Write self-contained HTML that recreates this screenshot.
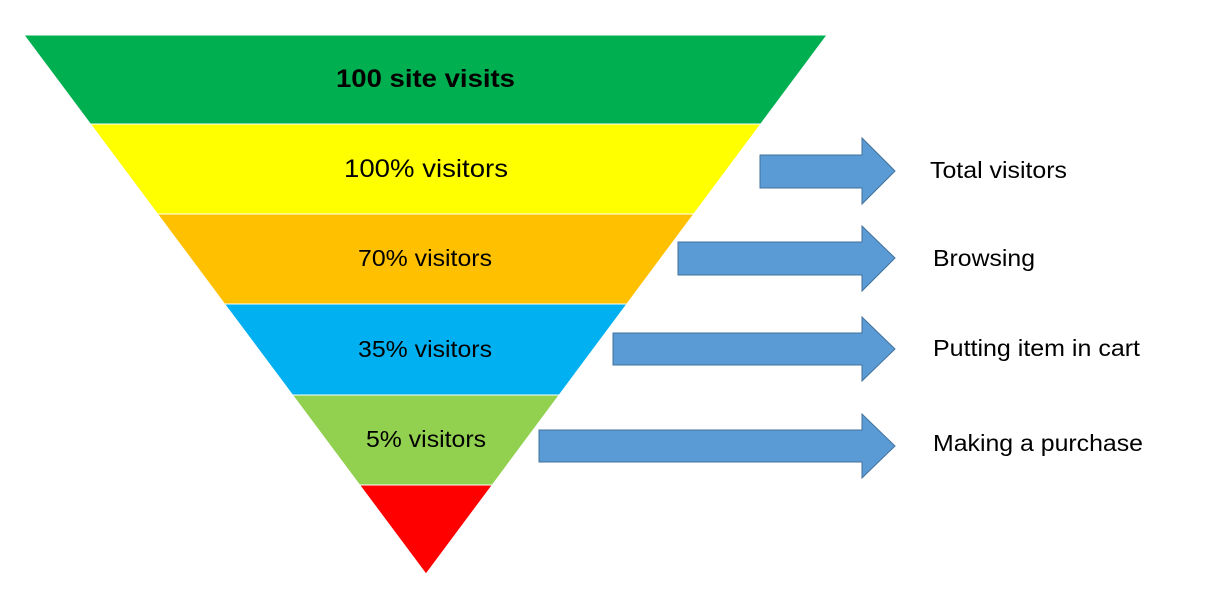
<!DOCTYPE html>
<html><head><meta charset="utf-8"><style>
html,body{margin:0;padding:0;background:#fff;}
svg{display:block;}
text{font-family:"Liberation Sans",Arial,sans-serif;fill:#000;}
</style></head><body>
<svg width="1218" height="595" viewBox="0 0 1218 595">
<g stroke="#fff" stroke-width="1">
<polygon points="24,35 827,35 760.8,124 90.4,124" fill="#00b050"/>
<polygon points="90.4,124 760.8,124 693.8,214 157.5,214" fill="#ffff00"/>
<polygon points="157.5,214 693.8,214 626.9,304 224.6,304" fill="#ffc000"/>
<polygon points="224.6,304 626.9,304 559.2,395 292.5,395" fill="#00b0f0"/>
<polygon points="292.5,395 559.2,395 492.3,485 359.6,485" fill="#92d050"/>
<polygon points="359.6,485 492.3,485 426,574" fill="#ff0000"/>
</g>
<g lengthAdjust="spacingAndGlyphs">
<text x="336" y="87" font-size="25" font-weight="bold" textLength="179" lengthAdjust="spacingAndGlyphs">100 site visits</text>
<text x="344" y="177" font-size="25" textLength="164" lengthAdjust="spacingAndGlyphs">100% visitors</text>
<text x="358" y="266" font-size="23" textLength="134" lengthAdjust="spacingAndGlyphs">70% visitors</text>
<text x="358" y="357" font-size="23" textLength="134" lengthAdjust="spacingAndGlyphs">35% visitors</text>
<text x="366" y="447" font-size="23" textLength="120" lengthAdjust="spacingAndGlyphs">5% visitors</text>
</g>
<g fill="#5b9bd5" stroke="#41719c" stroke-width="1">
<polygon points="760,155 862,155 862,138 895,171 862,204 862,188 760,188"/>
<polygon points="678,242 862,242 862,226 895,258 862,291 862,275 678,275"/>
<polygon points="613,333 862,333 862,317 895,349 862,381 862,365 613,365"/>
<polygon points="539,430 862,430 862,414 895,446 862,478 862,462 539,462"/>
</g>
<text x="930" y="178" font-size="23" textLength="137" lengthAdjust="spacingAndGlyphs">Total visitors</text>
<text x="933" y="266" font-size="23" textLength="102" lengthAdjust="spacingAndGlyphs">Browsing</text>
<text x="933" y="356" font-size="23" textLength="207" lengthAdjust="spacingAndGlyphs">Putting item in cart</text>
<text x="933" y="451" font-size="23" textLength="210" lengthAdjust="spacingAndGlyphs">Making a purchase</text>
</svg>
</body></html>
